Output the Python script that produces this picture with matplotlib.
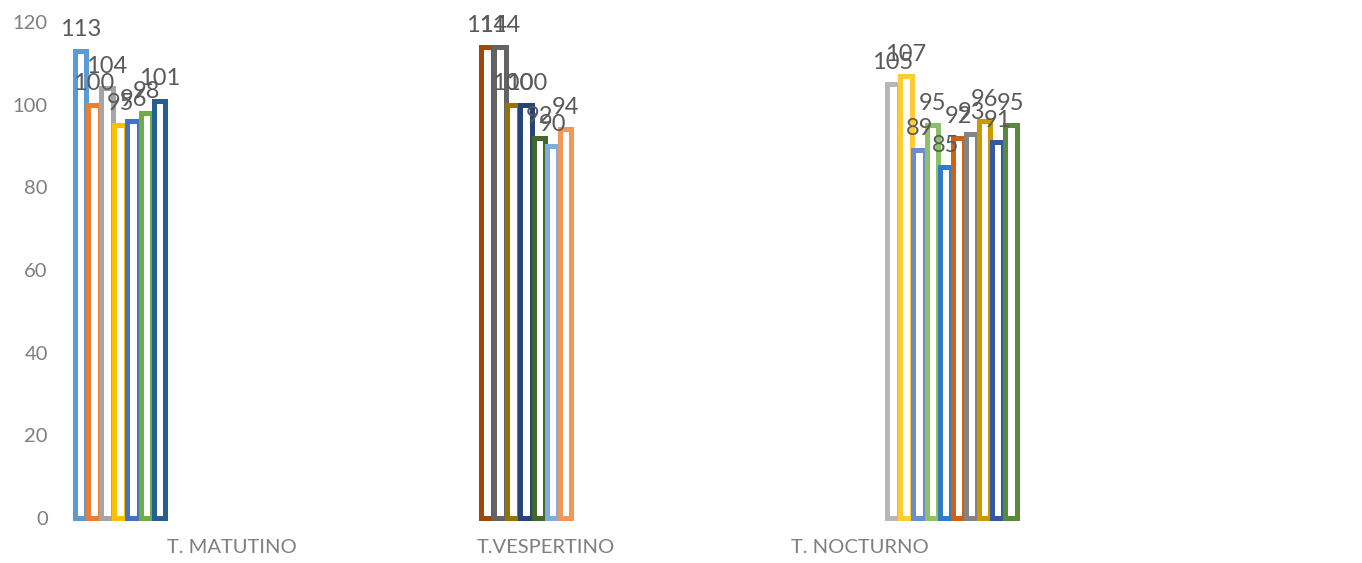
import numpy as np
import matplotlib.pyplot as plt

# turnos y valores por serie (cada turno tiene sus propias series)
categories = ["T. MATUTINO", "T.VESPERTINO", "T. NOCTURNO"]
matutino = [113, 100, 104, 95, 96, 98, 101]
vespertino = [114, 114, 100, 100, 92, 90, 94]
nocturno = [105, 107, 89, 95, 85, 92, 93, 96, 91, 95]

colors_matutino = ["#5B9BD5", "#ED7D31", "#A5A5A5", "#FFC000", "#4472C4", "#70AD47", "#255E91"]
colors_vespertino = ["#9E480E", "#636363", "#997300", "#264478", "#43682B", "#7CAFDD", "#F1975A"]
colors_nocturno = ["#B7B7B7", "#FFCD33", "#698ED0", "#8CC168", "#327DC2", "#D26012",
                   "#848484", "#CC9A00", "#335AA1", "#5A8A39"]

yticks = [0, 20, 40, 60, 80, 100, 120]

plt.rcParams["font.family"] = ["Lato", "DejaVu Sans"]

groups = [matutino, vespertino, nocturno]
group_colors = [colors_matutino, colors_vespertino, colors_nocturno]
n_series = sum(len(g) for g in groups)
slot = 1.0 / n_series

fig = plt.figure(figsize=(13.62, 5.63), dpi=100)
ax = fig.add_axes([0.0545, 0.0799, 0.6925, 0.881])

lw_px = 5.0
lw_pt = lw_px * 72 / fig.dpi
bar_w = slot - lw_px / 945.0  # inner width so outlines just touch

k = 0
for ci, (vals, cols) in enumerate(zip(groups, group_colors)):
    for v, c in zip(vals, cols):
        x = ci - 0.5 + (k + 0.5) * slot
        ax.bar(x, v, width=bar_w, facecolor="white", edgecolor=c,
               linewidth=lw_pt, joinstyle="miter", clip_on=False)
        ax.annotate(str(v), (x, v), xytext=(0, 8), textcoords="offset points",
                    ha="center", va="bottom", fontsize=17, color="#595959")
        k += 1

ax.set_xlim(-0.5, 2.5)
ax.set_ylim(0, 120)
ax.set_xticks(range(len(categories)))
ax.set_xticklabels(categories)
ax.set_yticks(yticks)
ax.tick_params(axis="both", length=0, labelsize=14.5, labelcolor="#7F7F7F")
ax.tick_params(axis="y", pad=19)
ax.tick_params(axis="x", pad=15)
for s in ax.spines.values():
    s.set_visible(False)

fig.savefig("out.png", dpi=100)
